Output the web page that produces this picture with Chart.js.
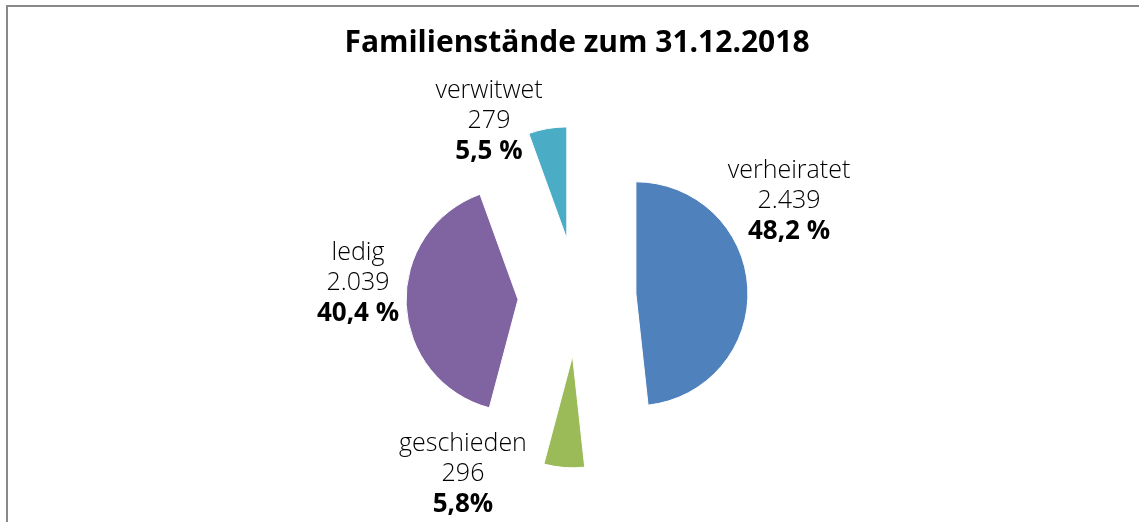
<!DOCTYPE html>
<html>
<head>
<meta charset="utf-8">
<script src="https://cdn.jsdelivr.net/npm/chart.js@4/dist/chart.umd.min.js"></script>
<style>
  html, body { margin: 0; padding: 0; background: #fff; overflow: hidden; }
  #wrap { position: relative; width: 1139px; height: 522px; }
  #frame { position: absolute; left: 6px; top: 5px; right: 0; bottom: 0;
           border-left: 2px solid #898989; border-top: 2px solid #898989; }
  #myChart { position: absolute; left: 0; top: 0; }
</style>
</head>
<body>
<div id="wrap">
  <div id="frame"></div>
  <canvas id="myChart" width="1139" height="522"></canvas>
</div>
<script>
const categories = ['verheiratet', 'geschieden', 'ledig', 'verwitwet'];
const counts = [2439, 296, 2039, 279];
const countLabels = ['2.439', '296', '2.039', '279'];
const percentLabels = ['48,2 %', '5,8%', '40,4 %', '5,5 %'];
const colors = ['#4F81BD', '#9BBB59', '#8064A2', '#4BACC6'];

// label anchor (middle line baseline) relative to pie centre
const labelAnchors = [[212, -89], [-114, 184], [-219, -7], [-88, -169]];

const EXPLODE = 59;

// draw every arc pushed out along its bisector (same distance for all slices)
const explodePlugin = {
    id: 'explode',
    beforeDatasetDraw(chart, args) {
        const ctx = chart.ctx;
        const meta = chart.getDatasetMeta(args.index);
        meta.data.forEach(arc => {
            const mid = (arc.startAngle + arc.endAngle) / 2;
            ctx.save();
            ctx.translate(Math.cos(mid) * EXPLODE, Math.sin(mid) * EXPLODE);
            arc.draw(ctx);
            ctx.restore();
        });
        return false;
    }
};

const labelPlugin = {
    id: 'sliceLabels',
    afterDatasetsDraw(chart) {
        const ctx = chart.ctx;
        const arc = chart.getDatasetMeta(0).data[0];
        const cx = arc.x, cy = arc.y;
        ctx.save();
        ctx.fillStyle = '#000';
        ctx.textAlign = 'center';
        ctx.textBaseline = 'alphabetic';
        categories.forEach((name, i) => {
            const x = cx + labelAnchors[i][0];
            const y = cy + labelAnchors[i][1];
            ctx.font = '300 25px "Open Sans"';
            ctx.fillText(name, x, y - 30);
            ctx.fillText(countLabels[i], x, y);
            ctx.font = 'bold 26px "Open Sans"';
            ctx.fillText(percentLabels[i], x, y + 31);
        });
        ctx.restore();
    }
};

new Chart(document.getElementById('myChart'), {
    type: 'pie',
    data: {
        labels: categories,
        datasets: [{
            data: counts,
            backgroundColor: colors,
            borderColor: '#fff',
            borderWidth: 1
        }]
    },
    options: {
        responsive: false,
        animation: false,
        radius: 112,
        layout: { padding: { left: 15, right: 0, top: 0, bottom: 0 } },
        plugins: {
            legend: { display: false },
            tooltip: { enabled: false },
            title: {
                display: true,
                text: 'Familienstände zum 31.12.2018',
                color: '#000',
                font: { family: '"Open Sans"', size: 30, weight: 'bold' },
                padding: { top: 25, bottom: 11 }
            }
        }
    },
    plugins: [explodePlugin, labelPlugin]
});
</script>
</body>
</html>
